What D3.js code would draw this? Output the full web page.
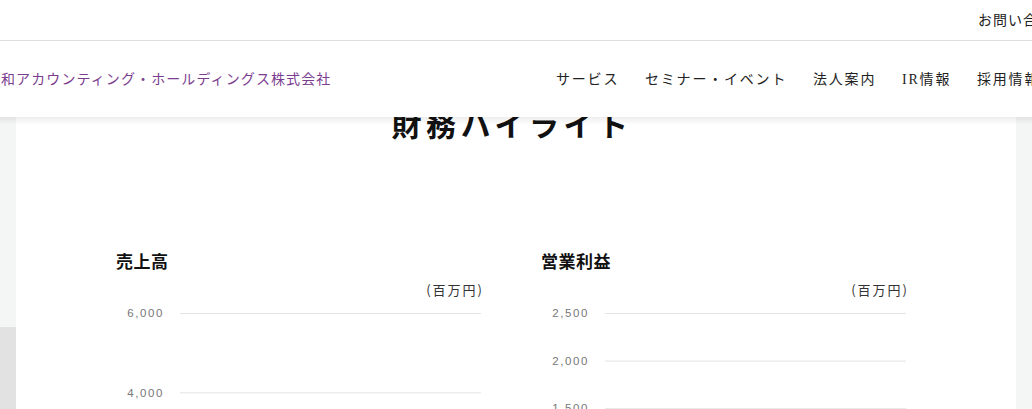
<!DOCTYPE html>
<html lang="ja">
<head>
<meta charset="utf-8">
<script src="https://cdn.jsdelivr.net/npm/d3@7"></script>
<style>
  html, body { margin: 0; padding: 0; width: 1032px; height: 409px; overflow: hidden; background: #fff; }
  svg { display: block; }
</style>
</head>
<body>
<svg id="page" width="1032" height="409"></svg>
<script>
// ---- data ----
const navItems = ["サービス", "セミナー・イベント", "法人案内", "IR情報", "採用情報"];
const navX = [556, 645, 813, 902, 977];
const companyName = "和アカウンティング・ホールディングス株式会社";
const pageTitle = "財務ハイライト";
const contactLabel = "お問い合";

const fiscalYears = ["2020年3月期", "2021年3月期", "2022年3月期", "2023年3月期", "2024年3月期"];
const salesValues = [2650, 2840, 3020, 3250, 3480];        // 売上高 (百万円)
const profitValues = [980, 1060, 1180, 1290, 1420];        // 営業利益 (百万円)
const salesTicks = [0, 2000, 4000, 6000];
const profitTicks = [0, 500, 1000, 1500, 2000, 2500];
const chartTitles = ["売上高", "営業利益"];
const unitLabel = "(百万円)";

const svg = d3.select("#page");
const fmt = d3.format(",");
const JP = "'Noto Sans CJK JP', 'Noto Sans', sans-serif";
const NAV = "'Liberation Serif', 'Noto Sans CJK JP', serif";

// background strips
svg.append("rect").attr("x", 0).attr("y", 0).attr("width", 1032).attr("height", 409).attr("fill", "#f4f6f5");
svg.append("rect").attr("x", 0).attr("y", 327).attr("width", 16).attr("height", 82).attr("fill", "#e2e2e2");
svg.append("rect").attr("x", 16).attr("y", 100).attr("width", 1000).attr("height", 309).attr("fill", "#ffffff");

// page title (partly hidden under header)
svg.append("text").attr("x", 512).attr("y", 136).attr("text-anchor", "middle")
  .attr("font-family", JP).attr("font-weight", 700).attr("font-size", 30)
  .attr("letter-spacing", 4.5).attr("fill", "#111").text(pageTitle);

// header with shadow
const defs = svg.append("defs");
const grad = defs.append("linearGradient").attr("id", "shadow").attr("x1", 0).attr("y1", 0).attr("x2", 0).attr("y2", 1);
grad.append("stop").attr("offset", "0%").attr("stop-color", "#000").attr("stop-opacity", 0.07);
grad.append("stop").attr("offset", "100%").attr("stop-color", "#000").attr("stop-opacity", 0);
svg.append("rect").attr("x", 0).attr("y", 117).attr("width", 1032).attr("height", 8).attr("fill", "url(#shadow)");
svg.append("rect").attr("x", 0).attr("y", 0).attr("width", 1032).attr("height", 117).attr("fill", "#ffffff");
svg.append("line").attr("x1", 0).attr("x2", 1032).attr("y1", 40.5).attr("y2", 40.5).attr("stroke", "#dddddd");

svg.append("text").attr("x", 978).attr("y", 25).attr("font-family", JP).attr("font-size", 14)
  .attr("letter-spacing", 1).attr("fill", "#222").text(contactLabel);

svg.append("text").attr("x", 1).attr("y", 84).attr("font-family", JP).attr("font-size", 14)
  .attr("letter-spacing", 1.1).attr("fill", "#7b3d8f").text(companyName);

svg.selectAll("text.nav").data(navItems).join("text").attr("class", "nav")
  .attr("x", (d, i) => navX[i]).attr("y", 84)
  .attr("font-family", NAV).attr("font-size", 14).attr("letter-spacing", 1.8)
  .attr("fill", "#222").text(d => d);

// ---- charts ----
const charts = [
  { title: chartTitles[0], values: salesValues, ticks: salesTicks, max: 6000, left: 116, plotX0: 180, plotX1: 481 },
  { title: chartTitles[1], values: profitValues, ticks: profitTicks, max: 2500, left: 541, plotX0: 605, plotX1: 906 }
];

charts.forEach(c => {
  const g = svg.append("g");
  const y = d3.scaleLinear().domain([0, c.max]).range([551, 313]);
  const x = d3.scaleBand().domain(fiscalYears).range([c.plotX0, c.plotX1]).padding(0.45);

  g.append("text").attr("x", c.left).attr("y", 268).attr("font-family", JP).attr("font-weight", 700)
    .attr("font-size", 17).attr("letter-spacing", 0.5).attr("fill", "#111").text(c.title);
  g.append("text").attr("x", c.plotX1 + 3).attr("y", 295).attr("text-anchor", "end")
    .attr("font-family", JP).attr("font-size", 13).attr("letter-spacing", 2)
    .attr("fill", "#333").text(unitLabel);

  const axis = d3.axisLeft(y).tickValues(c.ticks).tickFormat(fmt)
    .tickSize(-(c.plotX1 - c.plotX0)).tickPadding(16);
  const ag = g.append("g").attr("transform", `translate(${c.plotX0},0)`).call(axis);
  ag.select(".domain").remove();
  ag.selectAll(".tick line").attr("stroke", "#e4e4e4");
  ag.selectAll(".tick text").attr("font-family", "'Liberation Sans', Arial, sans-serif")
    .attr("font-size", 11.5).attr("letter-spacing", 1.6).attr("fill", "#777");

  g.selectAll("rect.bar").data(c.values).join("rect").attr("class", "bar")
    .attr("x", (d, i) => x(fiscalYears[i])).attr("width", x.bandwidth())
    .attr("y", d => y(d)).attr("height", d => y(0) - y(d)).attr("fill", "#7b3d8f");
});
</script>
</body>
</html>
